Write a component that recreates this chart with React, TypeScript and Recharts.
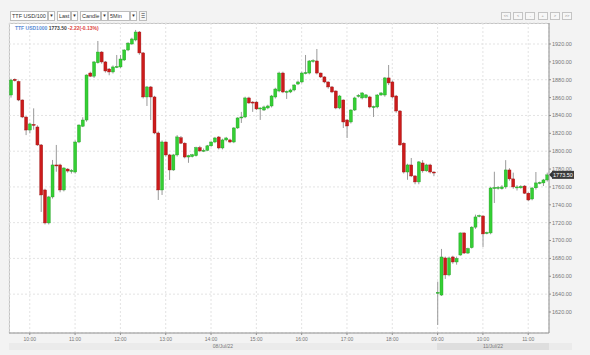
import React from 'react';
import { ComposedChart, Bar, XAxis, YAxis, CartesianGrid, ReferenceLine } from 'recharts';

// trading sessions shown on the chart (5 minute candles)
const sessions = [
  { day: 'd1', date: '08/Jul/22', start: '09:35', count: 113 },
  { day: 'd2', date: '11/Jul/22', start: '09:00', count: 30 },
];

const xTicks = [
  'd1 10:00', 'd1 11:00', 'd1 12:00', 'd1 13:00', 'd1 14:00', 'd1 15:00',
  'd1 16:00', 'd1 17:00', 'd1 18:00', 'd2 09:00', 'd2 10:00', 'd2 11:00',
];

const yTicks = [1620, 1640, 1660, 1680, 1700, 1720, 1740, 1760, 1780, 1800, 1820, 1840, 1860, 1880, 1900, 1920];

const opens = [
  1862.9, 1880.5, 1878, 1857.3, 1838.3, 1823.7, 1830, 1827.1, 1807, 1756.6,
  1719.7, 1748.8, 1784.6, 1784.6, 1756.6, 1780, 1777.8, 1776.7, 1810.3, 1828,
  1834.9, 1887.5, 1884, 1899, 1911, 1899.9, 1892, 1888.7, 1894.3, 1894.3,
  1902.1, 1913.3, 1920, 1924.5, 1933.4, 1910, 1860.7, 1871.9, 1860.7, 1820.4,
  1756.6, 1810.3, 1795.8, 1779, 1795.8, 1815, 1809, 1793.5, 1794, 1795,
  1804, 1800.3, 1801, 1806, 1810.3, 1815.9, 1803.6, 1812.6, 1812.6, 1810.3,
  1826, 1837.2, 1838.3, 1859.6, 1855, 1855, 1847.3, 1846.1, 1848.4, 1850.6,
  1860.7, 1867.4, 1887.5, 1866.3, 1866.3, 1868.5, 1875.2, 1877.5, 1887.5, 1887.5,
  1901, 1901, 1887.5, 1883.1, 1877.5, 1871.9, 1867.4, 1848.4, 1857.3, 1834.9,
  1832.7, 1846.1, 1861.8, 1859.6, 1860, 1860.7, 1849.5, 1849.5, 1862.9, 1862.9,
  1882, 1877.5, 1861.8, 1845, 1809, 1776.7, 1784.6, 1772.3, 1765.6, 1786.8,
  1778, 1784.6, 1776.7,
  1641, 1639, 1680.5, 1661.5, 1681.6, 1676, 1683.8, 1708.5, 1686, 1692,
  1715, 1727, 1727.5, 1708, 1708.5, 1759, 1759, 1758, 1760, 1779,
  1769, 1759, 1759, 1761, 1753, 1746.5, 1759, 1764.5, 1764.5, 1767.8,
];

const highs = [
  1881, 1881.5, 1879, 1858, 1839, 1832, 1848, 1829, 1808, 1758,
  1750, 1790.2, 1807, 1786, 1782, 1781, 1780, 1812, 1830, 1838,
  1886, 1889, 1901, 1923.4, 1912, 1901, 1893, 1896, 1907.7, 1907.7,
  1914, 1922, 1927, 1935.7, 1934.5, 1911, 1873, 1873, 1862, 1822,
  1812, 1811, 1797, 1797, 1818, 1817, 1810, 1796, 1797, 1805,
  1806, 1803, 1807, 1811, 1816, 1817, 1814, 1816, 1814, 1827,
  1838, 1844, 1861, 1861, 1856, 1856, 1849, 1851, 1852, 1863,
  1871, 1889, 1889, 1868, 1870, 1875, 1879, 1889, 1907.7, 1902,
  1903, 1914.4, 1888, 1884, 1878, 1873, 1868, 1863, 1858, 1836,
  1847, 1861, 1864, 1866, 1864, 1862, 1851, 1864, 1866, 1883,
  1896.5, 1879, 1863, 1846, 1810, 1786, 1792.4, 1773, 1789, 1790,
  1786, 1786, 1777.5,
  1654, 1690.6, 1682, 1682, 1683, 1682, 1709, 1709, 1692, 1716,
  1729, 1729, 1728, 1710, 1760, 1777, 1761, 1762, 1790, 1781,
  1776, 1762, 1762, 1762, 1754, 1760, 1776.7, 1766, 1769, 1776,
];

const lows = [
  1860, 1878, 1856, 1837, 1818, 1820, 1824, 1806, 1732, 1718,
  1718, 1747, 1777, 1754, 1755, 1776, 1775, 1775, 1809, 1827,
  1833, 1883, 1882, 1898, 1898, 1888, 1885, 1887, 1893, 1893,
  1901, 1912, 1919, 1923, 1908, 1859, 1850.6, 1834.9, 1819, 1745.4,
  1751, 1794, 1767.8, 1778, 1794, 1808, 1792, 1787, 1793, 1794,
  1799, 1799, 1800, 1805, 1809, 1802, 1802, 1811, 1809, 1809,
  1825, 1831.6, 1837, 1853, 1844, 1846, 1835, 1845, 1847, 1849,
  1859, 1866, 1865, 1858.5, 1865, 1867, 1874, 1876, 1886, 1886,
  1899, 1886, 1882, 1876, 1870, 1865, 1847, 1847, 1826, 1814.8,
  1831, 1845, 1860, 1858, 1859, 1848, 1838.3, 1848, 1862, 1861,
  1874, 1859, 1843, 1806, 1775, 1768, 1771, 1763, 1763, 1776,
  1777, 1775, 1772,
  1605.5, 1638, 1657, 1660, 1674, 1673, 1683, 1685, 1685, 1691,
  1713, 1726, 1692.8, 1707, 1707, 1742, 1757, 1757, 1758, 1767,
  1758, 1756, 1758, 1752, 1744, 1745, 1757, 1763, 1761, 1766,
];

const closes = [
  1879.7, 1879, 1857.3, 1838.3, 1823.7, 1830.5, 1829, 1807, 1751, 1719.7,
  1748.8, 1784.6, 1784, 1756.6, 1781.2, 1777.8, 1778.5, 1810.3, 1829.3, 1834.9,
  1885.3, 1884, 1899.9, 1911, 1899.9, 1889.8, 1888.7, 1894.3, 1894.8, 1903.2,
  1913.3, 1921, 1925.6, 1933.4, 1910, 1860.7, 1871.9, 1860.7, 1820.4, 1756.6,
  1810.3, 1795.8, 1779, 1795.8, 1816, 1809, 1793.5, 1795, 1796, 1804,
  1800.3, 1801, 1806, 1810.3, 1814.8, 1803.6, 1812.6, 1814.8, 1810.3, 1826,
  1837.2, 1838.3, 1859.6, 1854, 1854, 1847.3, 1848.4, 1849.5, 1850.6, 1861.8,
  1869.6, 1887.5, 1866.3, 1867, 1868.5, 1874.1, 1877.5, 1887.5, 1888, 1901,
  1901.5, 1887.5, 1883.1, 1877.5, 1871.9, 1866.3, 1848.4, 1861.8, 1832.7, 1828.2,
  1846.1, 1859.6, 1862.5, 1865.2, 1863, 1849.5, 1850, 1862.9, 1865.2, 1882,
  1876.4, 1860.7, 1845, 1807, 1776.7, 1784.6, 1772.3, 1765.6, 1788, 1778,
  1784.6, 1776.7, 1775.72,
  1642, 1681.6, 1661.5, 1680.5, 1676, 1680, 1708.5, 1686, 1691, 1715,
  1726.4, 1728, 1707.4, 1709, 1758.8, 1759.3, 1759.5, 1760, 1779, 1769,
  1760, 1760, 1760.5, 1753, 1745.4, 1758.8, 1764.5, 1765, 1767.8, 1773.5,
];

const pad = (n: number) => (n < 10 ? '0' + n : '' + n);

const keys: string[] = [];
sessions.forEach((s) => {
  const [h, m] = s.start.split(':').map(Number);
  for (let k = 0; k < s.count; k++) {
    const t = h * 60 + m + k * 5;
    keys.push(`${s.day} ${pad(Math.floor(t / 60))}:${pad(t % 60)}`);
  }
});

const data = keys.map((key, i) => ({
  key,
  open: opens[i],
  high: highs[i],
  low: lows[i],
  close: closes[i],
}));

const lastPrice = closes[closes.length - 1];
const prevClose = closes[sessions[0].count - 1];
const change = lastPrice - prevClose;
const changePct = (change / prevClose) * 100;

const FONT = '"Liberation Sans", Arial, sans-serif';

function Candle(props: any) {
  const { x, y, width, height, payload } = props;
  if (!payload) return null;
  const { open, close, high, low } = payload;
  const top0 = Math.min(y, y + height);
  const h = Math.abs(height);
  const toY = (v: number) => (high === low ? top0 : top0 + (h * (high - v)) / (high - low));
  const cx = x + width / 2;
  const up = close >= open;
  const bTop = toY(Math.max(open, close));
  const bBot = toY(Math.min(open, close));
  return (
    <g>
      <line x1={cx} x2={cx} y1={top0} y2={top0 + h} stroke="#9a9a9a" strokeWidth={1} />
      <rect
        x={cx - 1.5}
        y={bTop}
        width={3}
        height={Math.max(bBot - bTop, 1)}
        fill={up ? '#34cf34' : '#cc1b1b'}
        stroke={up ? '#1f9e1f' : '#9c1212'}
        strokeWidth={0.4}
      />
    </g>
  );
}

function PriceTag(props: any) {
  const vb = props.viewBox;
  if (!vb) return null;
  const x = vb.x + vb.width;
  const y = vb.y;
  return (
    <g>
      <path d={`M${x} ${y} L${x + 3} ${y - 3} L${x + 3} ${y + 3} Z`} fill="#333" />
      <rect x={x + 3} y={y - 4} width={22} height={8} fill="#3b3b3b" />
      <text x={x + 14} y={y} dy="0.35em" textAnchor="middle" fontSize={5.5} fontFamily={FONT} fill="#fff">
        {lastPrice.toFixed(2)}
      </text>
    </g>
  );
}

const boxStyle: React.CSSProperties = {
  position: 'absolute', top: 11, height: 10, boxSizing: 'border-box', border: '1px solid #bdbdbd',
  background: '#fff', fontSize: 5.5, lineHeight: '8px', color: '#333', overflow: 'hidden', whiteSpace: 'nowrap',
};

function Select({ left, width, label }: { left: number; width: number; label: string }) {
  return (
    <>
      <div style={{ ...boxStyle, left, width, paddingLeft: 1 }}>{label}</div>
      <div style={{ ...boxStyle, left: left + width, width: 7, textAlign: 'center', fontSize: 4.5 }}>▼</div>
    </>
  );
}

const navButtons = ['<<', '<', '-', '+', '>', '>>'];

export default function App() {
  return (
    <div style={{ position: 'relative', width: 590, height: 355, background: '#f3f3f3', fontFamily: FONT, overflow: 'hidden' }}>
      <style>{'body{margin:0}'}</style>

      <Select left={10} width={38} label="TTF USD/100" />
      <Select left={57} width={14} label="Last" />
      <Select left={80} width={21} label="Candle" />
      <Select left={108} width={22} label="5Min" />
      <div style={{ ...boxStyle, left: 139, width: 8, background: '#f6f6f6', fontSize: 5, textAlign: 'center', color: '#888' }}>≣</div>

      {navButtons.map((b, i) => (
        <div key={i} style={{ position: 'absolute', left: 501 + i * 12.2, top: 12, width: 10, height: 8, boxSizing: 'border-box', border: '1px solid #c4c4c4', background: '#f7f7f7', fontSize: 4, lineHeight: '6px', textAlign: 'center', color: '#888' }}>{b}</div>
      ))}

      {/* plot background */}
      <div style={{ position: 'absolute', left: 9, top: 23, width: 540, height: 310, background: '#fff', borderTop: '1px solid #c4c4c4', borderLeft: '1px solid #c4c4c4', boxSizing: 'border-box' }} />

      <div style={{ position: 'absolute', left: 0, top: 0 }}>
        <ComposedChart width={590} height={355} data={data} margin={{ top: 23, right: 0, bottom: 0, left: 9 }} barCategoryGap={0}>
          <CartesianGrid stroke="#e3e3e3" strokeDasharray="2 2" />
          <XAxis
            dataKey="key"
            ticks={xTicks}
            interval={0}
            tickFormatter={(v: string) => v.split(' ')[1]}
            height={22}
            tickSize={2}
            tickMargin={2}
            stroke="#8f8f8f"
            tick={{ fontSize: 5, fill: '#777', fontFamily: FONT }}
          />
          <YAxis
            orientation="right"
            width={41}
            domain={[1596.5, 1943.5]}
            ticks={yTicks}
            tickFormatter={(v: number) => v.toFixed(2)}
            tickSize={2}
            tickMargin={1}
            stroke="#8f8f8f"
            tick={{ fontSize: 5.5, fill: '#777', fontFamily: FONT, textAnchor: 'start' }}
            allowDataOverflow
          />
          <Bar dataKey={(d: any) => [d.low, d.high]} shape={<Candle />} isAnimationActive={false} />
          <ReferenceLine y={lastPrice} stroke="none" label={<PriceTag />} />
        </ComposedChart>
      </div>

      {/* legend */}
      <div style={{ position: 'absolute', left: 15, top: 25, fontSize: 5, fontWeight: 'bold', whiteSpace: 'nowrap' }}>
        <span style={{ color: '#5b8ed6' }}>TTF USD1000</span>{' '}
        <span style={{ color: '#444' }}>{lastPrice.toFixed(2)}</span>{' '}
        <span style={{ color: '#e0443e' }}>{change.toFixed(2)}({changePct.toFixed(2)}%)</span>
      </div>

      {/* date band */}
      <div style={{ position: 'absolute', left: 9, top: 343, width: 563, height: 7, background: '#ebebeb' }} />
      <div style={{ position: 'absolute', left: 9, top: 343, width: 428, height: 7, fontSize: 5, lineHeight: '7px', color: '#777', textAlign: 'center' }}>{sessions[0].date}</div>
      <div style={{ position: 'absolute', left: 437, top: 343, width: 112, height: 7, background: '#dedede', fontSize: 5, lineHeight: '7px', color: '#777', textAlign: 'center' }}>{sessions[1].date}</div>
    </div>
  );
}
